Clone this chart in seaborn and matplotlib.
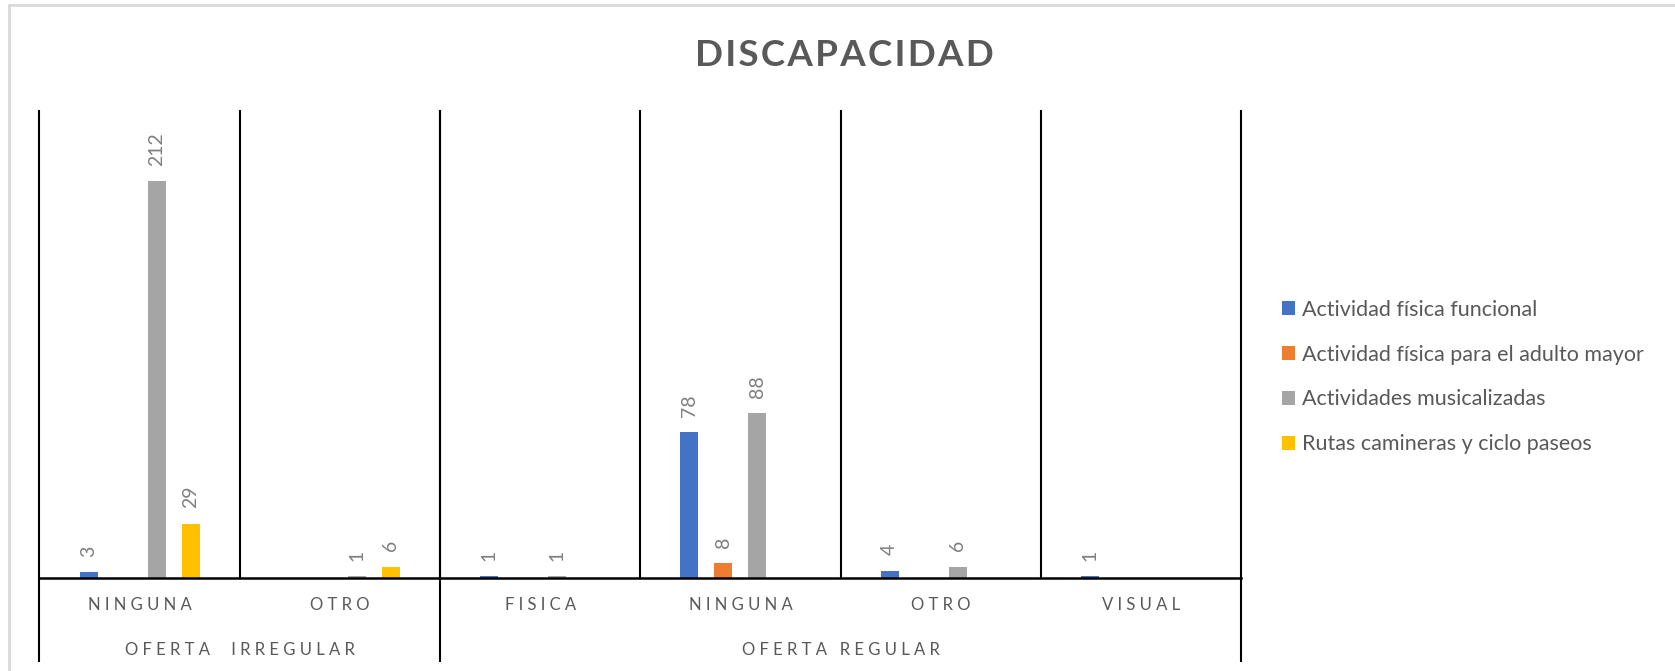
import numpy as np
import pandas as pd
import seaborn as sns
import matplotlib.pyplot as plt
from matplotlib.patches import Patch
from matplotlib.lines import Line2D
import matplotlib.transforms as mtransforms

# ---------------- data ----------------
groups = ["OFERTA  IRREGULAR", "OFERTA REGULAR"]
categories = ["NINGUNA", "OTRO", "FISICA", "NINGUNA", "OTRO", "VISUAL"]
category_group = [0, 0, 1, 1, 1, 1]
series = ["Actividad física funcional",
          "Actividad física para el adulto mayor",
          "Actividades musicalizadas",
          "Rutas camineras y ciclo paseos"]
act_funcional = [3, 0, 1, 78, 4, 1]
act_adulto_mayor = [0, 0, 0, 8, 0, 0]
act_musicalizadas = [212, 1, 1, 88, 6, 0]
rutas_ciclo = [29, 6, 0, 0, 0, 0]
colors = ["#4472C4", "#ED7D31", "#A5A5A5", "#FFC000"]

# ---------------- build table ----------------
slots = [f"{groups[g]}|{c}|{i}" for i, (g, c) in enumerate(zip(category_group, categories))]
rows = []
for s_name, vals in zip(series, [act_funcional, act_adulto_mayor, act_musicalizadas, rutas_ciclo]):
    for slot, v in zip(slots, vals):
        rows.append({"slot": slot, "serie": s_name, "value": v})
df = pd.DataFrame(rows)

# ---------------- style ----------------
sns.set_style("white")
plt.rcParams["font.family"] = ["Lato", "DejaVu Sans"]

W, H = 1675, 671
fig = plt.figure(figsize=(W / 100, H / 100), dpi=100)

x0, x1 = 39.5, 1241
y_top, y_base = 110, 578
ax = fig.add_axes([x0 / W, (H - y_base) / H, (x1 - x0) / W, (y_base - y_top) / H])

sns.barplot(data=df, x="slot", y="value", hue="serie", order=slots, hue_order=series,
            palette=colors, width=0.68, gap=0.47, saturation=1, linewidth=0,
            legend=False, ax=ax)

ax.set_ylim(0, 250)
ax.set_xlim(-0.5, len(slots) - 0.5)

# data labels
for cont in ax.containers:
    vals = cont.datavalues
    labels = [f"{int(v)}" if v > 0 else "" for v in vals]
    ax.bar_label(cont, labels=labels, rotation=90, padding=11, fontsize=14, color="#7F7F7F")

# axes cosmetics
for s in ["top", "left", "right"]:
    ax.spines[s].set_visible(False)
ax.spines["bottom"].set_color("black")
ax.spines["bottom"].set_linewidth(1.8)
ax.set_yticks([])
ax.set_ylabel("")
ax.set_xlabel("")


def spaced(text, sep=" "):
    return sep.join(list(text))


ax.set_xticks(range(len(slots)))
ax.set_xticklabels([spaced(c) for c in categories], fontsize=12, color="#595959")
ax.tick_params(axis="x", length=0, pad=14)

trans = ax.get_xaxis_transform()
# category separators (top to baseline)
ax.vlines([i + 0.5 for i in range(len(slots) - 1)], 0, 1, transform=trans,
          color="black", lw=1.5, clip_on=False)
# group separators extend below into the label area
bottom_frac = (y_base - 662) / (y_base - y_top)
grp_bounds = [-0.5]
for i in range(1, len(category_group)):
    if category_group[i] != category_group[i - 1]:
        grp_bounds.append(i - 0.5)
grp_bounds.append(len(slots) - 0.5)
ax.vlines(grp_bounds, bottom_frac, 1, transform=trans, color="black", lw=1.5, clip_on=False)

# group labels
label_frac = (y_base - 650) / (y_base - y_top)
for gi, g in enumerate(groups):
    idx = [i for i, cg in enumerate(category_group) if cg == gi]
    xc = (min(idx) + max(idx)) / 2
    ax.text(xc, label_frac, spaced(g), transform=trans, ha="center", va="center",
            fontsize=12, color="#595959")

# title
fig.text(844 / W, 1 - 55 / H, spaced("DISCAPACIDAD", "\u200a"), ha="center", va="center",
         fontsize=26.5, fontweight="bold", color="#595959")

# legend
handles = [Patch(facecolor=c, edgecolor="none") for c in colors]
fig.legend(handles, series, loc="center left", bbox_to_anchor=(1282 / W, 1 - 377 / H),
           frameon=False, fontsize=15.5, handlelength=0.62, handleheight=0.62,
           handletextpad=0.33, labelspacing=1.15, borderpad=0, borderaxespad=0,
           labelcolor="#595959")

# chart-area border (left and top visible)
fig.add_artist(Line2D([9 / W, 9 / W], [0, 1 - 5 / H], transform=fig.transFigure,
                      color="#D9D9D9", lw=2))
fig.add_artist(Line2D([9 / W, 1], [1 - 5 / H, 1 - 5 / H], transform=fig.transFigure,
                      color="#D9D9D9", lw=2))

fig.savefig("out.png", dpi=100, facecolor="white")
